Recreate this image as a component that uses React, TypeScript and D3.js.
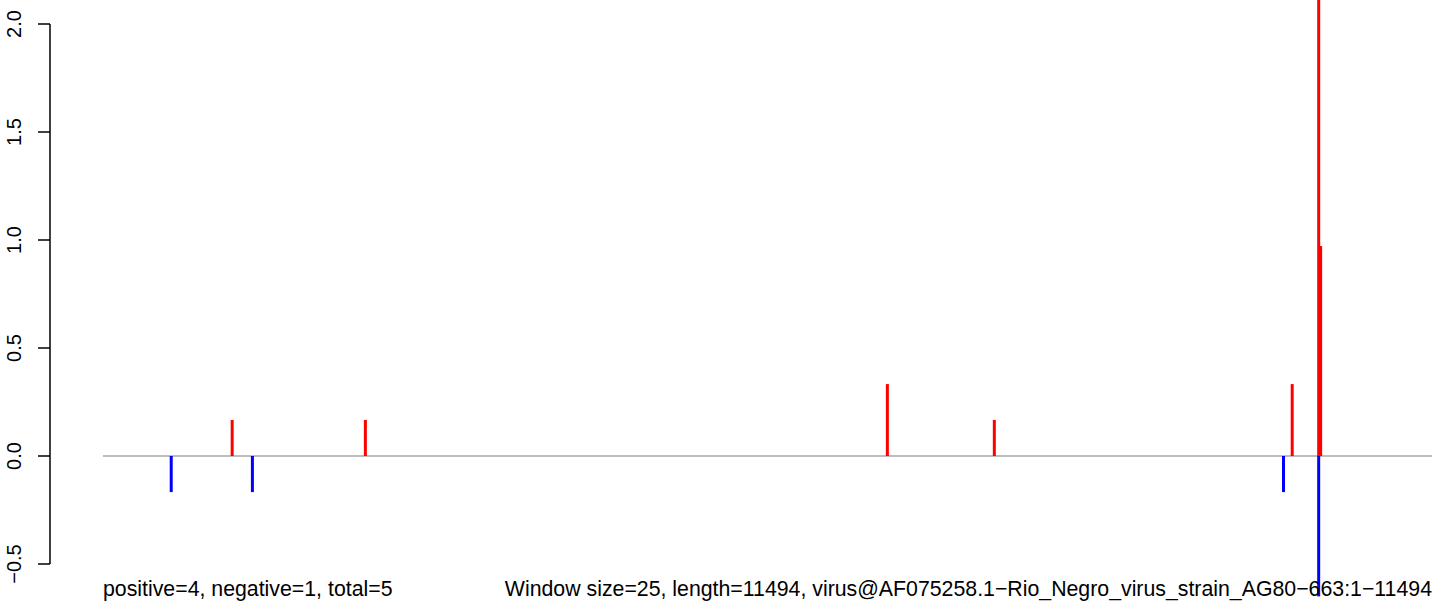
import { useEffect, useRef } from "react";
import * as d3 from "d3";

// genome positions (x) and scores (y)
const posX = [1118, 2270, 6784, 7709, 10285, 10514, 10531];
const posY = [0.167, 0.167, 0.333, 0.167, 0.333, 2.12, 0.972];
const negX = [591, 1293, 10210, 10514];
const negY = [-0.167, -0.167, -0.167, -0.65];
const yTicks = [-0.5, 0, 0.5, 1, 1.5, 2];
const genomeLength = 11494;

export default function App() {
  const ref = useRef<SVGSVGElement>(null);

  useEffect(() => {
    if (!ref.current) return;
    const svg = d3.select(ref.current);
    svg.selectAll("*").remove();

    const width = 1444;
    const height = 606;
    const font = "'Liberation Sans', Arial, Helvetica, sans-serif";

    svg.attr("width", width).attr("height", height);

    const x = d3.scaleLinear().domain([1, genomeLength]).range([103, 1432]);
    const y = d3.scaleLinear().domain([-0.5, 2]).range([564, 24]);

    // zero line
    svg
      .append("line")
      .attr("x1", x(1))
      .attr("x2", x(genomeLength))
      .attr("y1", y(0))
      .attr("y2", y(0))
      .attr("stroke", "#a6a6a6")
      .attr("stroke-width", 1.5);

    const pos = posX.map((p, i) => ({ p, v: posY[i] }));
    const neg = negX.map((p, i) => ({ p, v: negY[i] }));

    svg
      .selectAll(".pos")
      .data(pos)
      .join("line")
      .attr("class", "pos")
      .attr("x1", (d) => x(d.p))
      .attr("x2", (d) => x(d.p))
      .attr("y1", y(0))
      .attr("y2", (d) => y(d.v))
      .attr("stroke", "#ff0000")
      .attr("stroke-width", 3);

    svg
      .selectAll(".neg")
      .data(neg)
      .join("line")
      .attr("class", "neg")
      .attr("x1", (d) => x(d.p))
      .attr("x2", (d) => x(d.p))
      .attr("y1", y(0))
      .attr("y2", (d) => y(d.v))
      .attr("stroke", "#0000ff")
      .attr("stroke-width", 3);

    // y axis
    const axis = svg.append("g").attr("transform", "translate(50,0)");
    axis
      .append("line")
      .attr("x1", 0)
      .attr("x2", 0)
      .attr("y1", y(-0.5))
      .attr("y2", y(2))
      .attr("stroke", "#000")
      .attr("stroke-width", 1.5);
    axis
      .selectAll(".tick")
      .data(yTicks)
      .join("line")
      .attr("class", "tick")
      .attr("x1", -12)
      .attr("x2", 0)
      .attr("y1", (d) => y(d))
      .attr("y2", (d) => y(d))
      .attr("stroke", "#000")
      .attr("stroke-width", 1.5);
    axis
      .selectAll(".lbl")
      .data(yTicks)
      .join("text")
      .attr("class", "lbl")
      .attr("transform", (d) => `translate(-29,${y(d)}) rotate(-90)`)
      .attr("text-anchor", "middle")
      .style("font-family", font)
      .style("font-size", "20px")
      .text((d) => d3.format(".1f")(d).replace("-", "\u2212"));

    // captions
    svg
      .append("text")
      .attr("x", 103)
      .attr("y", 596)
      .style("font-family", font)
      .style("font-size", "21.3px")
      .text("positive=4, negative=1, total=5");
    svg
      .append("text")
      .attr("x", 1432)
      .attr("y", 596)
      .attr("text-anchor", "end")
      .style("font-family", font)
      .style("font-size", "21.3px")
      .text(
        "Window size=25, length=11494, virus@AF075258.1\u2212Rio_Negro_virus_strain_AG80\u2212663:1\u221211494"
      );
  }, []);

  return (
    <svg
      ref={ref}
      style={{ position: "absolute", left: 0, top: 0, background: "#fff" }}
    ></svg>
  );
}
